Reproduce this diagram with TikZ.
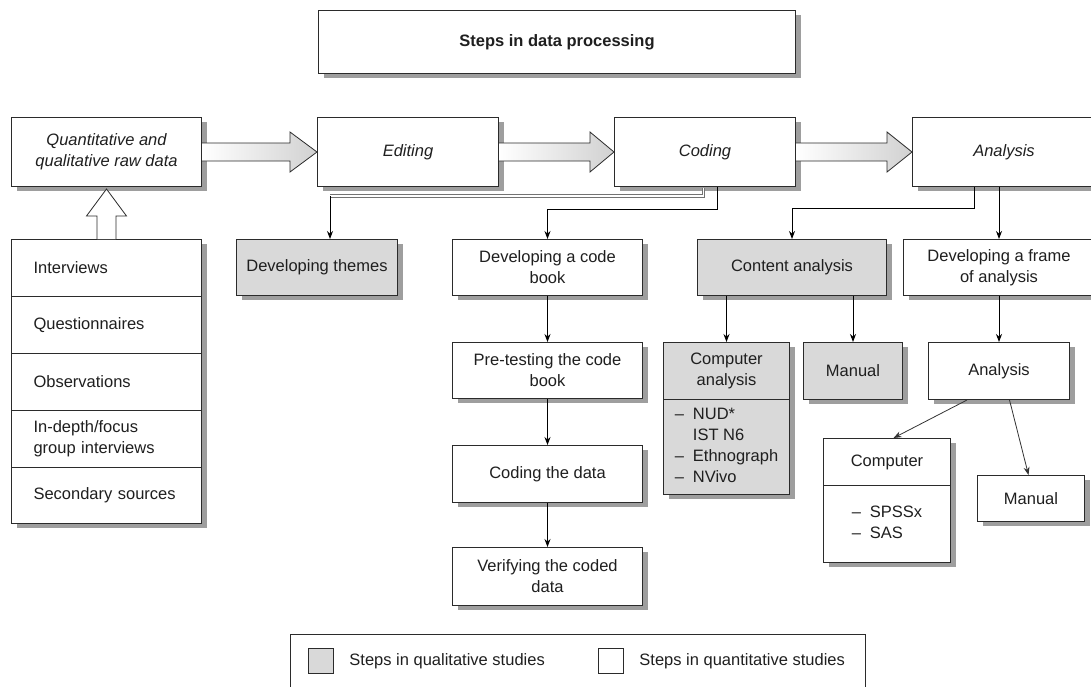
\documentclass[tikz,border=0pt]{standalone}
\usepackage{fontspec}
\setmainfont{Liberation Sans}
\usetikzlibrary{shadows,arrows.meta,calc}
\definecolor{qual}{HTML}{D9D9D9}
\definecolor{edge}{HTML}{2B2B2B}
\begin{document}
\begin{tikzpicture}[x=1pt,y=-1pt,
  every node/.style={font=\fontsize{16.5}{21}\selectfont, text=black!88},
  stepbox/.style={draw=edge, line width=1pt, fill=white, inner sep=0pt, align=center,
    anchor=north west,
    drop shadow={shadow xshift=5pt, shadow yshift=-4pt, fill=black!38, opacity=1}},
  qualbox/.style={stepbox, fill=qual},
  listcell/.style={stepbox, text width=146pt, align=left},
  link/.style={draw=black, line width=0.9pt, -{Stealth[length=8pt,width=6pt]}},
  slimlink/.style={draw=black!80, line width=0.8pt, -{Stealth[length=8pt,width=6pt]}},
  hollowouter/.style={draw=black!55, line width=3.6pt},
  hollowinner/.style={draw=white, line width=1.6pt},
  fatarrow/.style={draw=edge, line width=0.8pt, left color=white, right color=black!18},
  hollowup/.style={draw=edge, line width=0.8pt, fill=white},
  keybox/.style={draw=edge, line width=0.9pt, minimum size=25pt, inner sep=0pt, anchor=north west}
]
\useasboundingbox (0,0) rectangle (1091,686);

% title
\node[stepbox, minimum width=477pt, minimum height=63pt] (title) at (318,10)
  {\bfseries Steps in data processing};

% main process row
\node[stepbox, minimum width=190pt, minimum height=69pt] (raw) at (11,117)
  {\itshape Quantitative and\\\itshape qualitative raw data};
\node[stepbox, minimum width=181pt, minimum height=69pt] (editing) at (317,117) {\itshape Editing};
\node[stepbox, minimum width=181pt, minimum height=69pt] (coding) at (614,117) {\itshape Coding};
\node[stepbox, minimum width=183pt, minimum height=69pt] (analysis) at (912,117) {\itshape Analysis};

% data sources
\node[listcell, minimum width=190pt, minimum height=57pt] (interviews) at (11,239) {Interviews};
\node[listcell, minimum width=190pt, minimum height=57pt] (questionnaires) at (11,296) {Questionnaires};
\node[listcell, minimum width=190pt, minimum height=57pt] (observations) at (11,353) {Observations};
\node[listcell, minimum width=190pt, minimum height=57pt] (indepth) at (11,410) {In-depth/focus\\group interviews};
\node[listcell, minimum width=190pt, minimum height=56pt] (secondary) at (11,467) {Secondary sources};

% second row
\node[qualbox, minimum width=161pt, minimum height=56pt] (themes) at (236,239) {Developing themes};
\node[stepbox, minimum width=190pt, minimum height=56pt] (codebook) at (452,239) {Developing a code\\book};
\node[qualbox, minimum width=189pt, minimum height=56pt] (content) at (697,239) {Content analysis};
\node[stepbox, minimum width=191pt, minimum height=56pt] (frame) at (903,239) {Developing a frame\\of analysis};

% code book chain
\node[stepbox, minimum width=190pt, minimum height=56pt] (pretest) at (452,342) {Pre-testing the code\\book};
\node[stepbox, minimum width=190pt, minimum height=57pt] (codedata) at (452,445) {Coding the data};
\node[stepbox, minimum width=190pt, minimum height=58pt] (verify) at (452,547) {Verifying the coded\\data};

% content analysis branch
\node[qualbox, minimum width=126pt, minimum height=57pt] (companalysis) at (663,342) {Computer\\analysis};
\node[qualbox, minimum width=126pt, minimum height=95pt] (qualsoftware) at (663,399)
  {\begin{tabular}{@{}l@{\hspace{9pt}}l@{}}
   – & NUD*\\
     & IST N6\\
   – & Ethnograph\\
   – & NVivo
   \end{tabular}};
\node[qualbox, minimum width=99pt, minimum height=57pt] (manualq) at (803,342) {Manual};

% frame of analysis branch
\node[stepbox, minimum width=141pt, minimum height=57pt] (ana2) at (928,342) {Analysis};
\node[stepbox, minimum width=127pt, minimum height=47pt] (computer) at (823,438) {Computer};
\node[stepbox, minimum width=127pt, minimum height=77pt] (quantsoftware) at (823,485)
  {\begin{tabular}{@{}l@{\hspace{9pt}}l@{}}
   – & SPSSx\\
   – & SAS
   \end{tabular}};
\node[stepbox, minimum width=107pt, minimum height=46pt] (manualn) at (977,475) {Manual};

% broad process arrows
\draw[fatarrow] ($(raw.east)+(0,9)$) -- ($(editing.west)+(-27,9)$) -- ($(editing.west)+(-27,20)$)
  -- (editing.west) -- ($(editing.west)+(-27,-20)$) -- ($(editing.west)+(-27,-9)$) -- ($(raw.east)+(0,-9)$);
\draw[fatarrow] ($(editing.east)+(0,9)$) -- ($(coding.west)+(-24,9)$) -- ($(coding.west)+(-24,20)$)
  -- (coding.west) -- ($(coding.west)+(-24,-20)$) -- ($(coding.west)+(-24,-9)$) -- ($(editing.east)+(0,-9)$);
\draw[fatarrow] ($(coding.east)+(0,9)$) -- ($(analysis.west)+(-25,9)$) -- ($(analysis.west)+(-25,20)$)
  -- (analysis.west) -- ($(analysis.west)+(-25,-20)$) -- ($(analysis.west)+(-25,-9)$) -- ($(coding.east)+(0,-9)$);
\draw[hollowup] ($(interviews.north)+(-9.5,0)$) -- ($(raw.south)+(-9.5,29)$) -- ($(raw.south)+(-20,29)$)
  -- ($(raw.south)+(0,2)$) -- ($(raw.south)+(20,29)$) -- ($(raw.south)+(9.5,29)$) -- ($(interviews.north)+(9.5,0)$);

% connectors
\coordinate (thbend) at (330,196);
\coordinate (thtop) at ($(coding.south)+(-1.5,1)$);
\draw[hollowouter] (thtop) |- (thbend);
\draw[hollowinner] (thtop) |- (thbend);
\draw[link] (thbend) -- (thbend |- themes.north);
\coordinate (cbbend) at (717,209);
\draw[link] (cbbend |- coding.south) -- (cbbend) -| (codebook.north);
\coordinate (cabend) at (974,208);
\draw[link] (cabend |- analysis.south) -- (cabend) -| (content.north);
\draw[link] (frame.north |- analysis.south) -- (frame.north);

\draw[link] (codebook.south) -- (pretest.north);
\draw[link] (pretest.south) -- (codedata.north);
\draw[link] (codedata.south) -- (verify.north);

\draw[link] (companalysis.north |- content.south) -- (companalysis.north);
\draw[link] (manualq.north |- content.south) -- (manualq.north);
\draw[link] (frame.south) -- (ana2.north);
\draw[slimlink] ([xshift=-32pt]ana2.south) -- ([xshift=6.5pt]computer.north);
\draw[slimlink] ([xshift=10.5pt]ana2.south) -- ([xshift=-2.5pt]manualn.north);

% key
\node[draw=edge, line width=1pt, anchor=north west, minimum width=575pt, minimum height=70pt, inner sep=0pt]
  (key) at (290,634) {};
\node[keybox, fill=qual] (qualkey) at (308,648) {};
\node[anchor=west] (qualtext) at ($(qualkey.east)+(12,0)$) {Steps in qualitative studies};
\node[keybox, fill=white] (quantkey) at (598,648) {};
\node[anchor=west] (quanttext) at ($(quantkey.east)+(12,0)$) {Steps in quantitative studies};
\end{tikzpicture}
\end{document}
